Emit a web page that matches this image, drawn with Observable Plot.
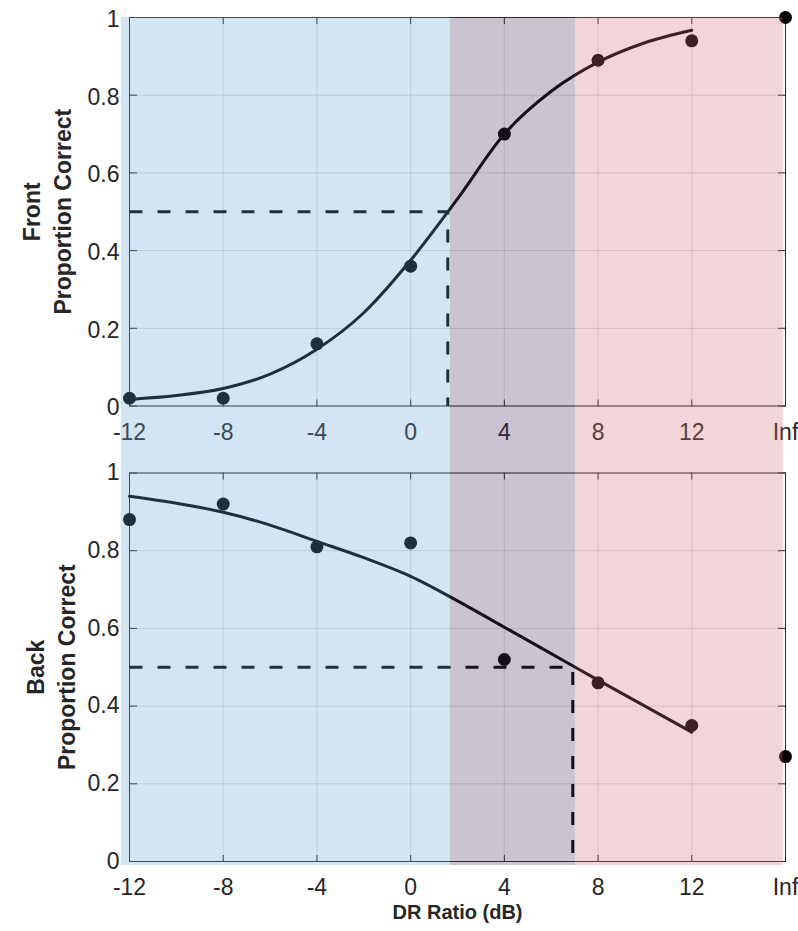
<!DOCTYPE html>
<html><head><meta charset="utf-8">
<script src="https://cdn.jsdelivr.net/npm/d3@7"></script>
<script src="https://cdn.jsdelivr.net/npm/@observablehq/plot@0.6"></script>
<style>
html,body{margin:0;padding:0;background:#fff;}
#chart svg{display:block;}
</style></head><body><div id="chart"></div>
<script>
// ---- data ----
const xTickValues = [-12, -8, -4, 0, 4, 8, 12, 16];
const xTickLabels = ["-12", "-8", "-4", "0", "4", "8", "12", "Inf"];
const yTickValues = [0, 0.2, 0.4, 0.6, 0.8, 1];
const yTickLabels = ["0", "0.2", "0.4", "0.6", "0.8", "1"];

const conditionX = [-12, -8, -4, 0, 4, 8, 12, 16]; // 16 = "Inf"
const frontCorrect = [0.02, 0.02, 0.16, 0.36, 0.70, 0.89, 0.94, 1.00];
const backCorrect  = [0.88, 0.92, 0.81, 0.82, 0.52, 0.46, 0.35, 0.27];

const fitX     = [-12, -10, -8, -6, -4, -2, 0, 2, 4, 6, 8, 10, 12];
const frontFit = [0.017, 0.027, 0.045, 0.082, 0.146, 0.24, 0.375, 0.533, 0.70, 0.81, 0.885, 0.935, 0.967];
const backFit  = [0.94, 0.922, 0.899, 0.866, 0.824, 0.782, 0.734, 0.671, 0.603, 0.535, 0.467, 0.40, 0.333];

const thresholdLevel = 0.5;
const frontThreshold = 1.585;
const backThreshold = 6.92;

// shaded regions (semi-transparent, drawn on top of everything)
const regionStart  = [-12.35, 1.7, 7.03];
const regionEnd    = [1.7, 7.03, 15.9];
const regionColors = ["rgb(103,162,214)", "rgb(72,52,100)", "rgb(210,110,120)"];
const regionAlpha = 0.29;

const ink = "#262626";
const fontFamily = "'Liberation Sans', Helvetica, Arial, sans-serif";

function panel({fit, correct, threshold, label, height, marginTop, marginBottom, patchTop, patchBottom, labelDx, xPad, yDy, xTitle}) {
  const pts = conditionX.map((x, i) => ({x, y: correct[i]}));
  const curve = fitX.map((x, i) => ({x, y: fit[i]}));
  const dash = [
    {x: conditionX[0], y: thresholdLevel},
    {x: threshold, y: thresholdLevel},
    {x: threshold, y: 0}
  ];
  const regions = regionStart.map((s, i) => ({start: s, end: regionEnd[i], color: regionColors[i]}));
  const fmtX = d => xTickLabels[xTickValues.indexOf(d)];
  const fmtY = d => yTickLabels[yTickValues.indexOf(d)];
  const marks = [
    Plot.gridX(xTickValues, {stroke: ink, strokeOpacity: 0.15, strokeWidth: 1}),
    Plot.gridY(yTickValues, {stroke: ink, strokeOpacity: 0.15, strokeWidth: 1}),
    Plot.frame({stroke: ink, strokeWidth: 1}),
    // inward ticks
    Plot.axisX(xTickValues, {anchor: "top", frameAnchor: "bottom", tickSize: 7, tickFormat: () => "", label: null, stroke: ink}),
    Plot.axisX(xTickValues, {anchor: "bottom", frameAnchor: "top", tickSize: 7, tickFormat: () => "", label: null, stroke: ink}),
    Plot.axisY(yTickValues, {anchor: "right", frameAnchor: "left", tickSize: 7, tickFormat: () => "", label: null, stroke: ink}),
    Plot.axisY(yTickValues, {anchor: "left", frameAnchor: "right", tickSize: 7, tickFormat: () => "", label: null, stroke: ink}),
    // tick labels
    Plot.axisX(xTickValues, {anchor: "bottom", tickSize: 0, tickPadding: xPad, fontSize: 23, fill: ink, tickFormat: fmtX, label: null}),
    Plot.axisY(yTickValues, {anchor: "left", tickSize: 0, tickPadding: 10, fontSize: 23, fill: ink, dy: yDy, tickFormat: fmtY, label: null}),
    // threshold guide
    Plot.line(dash, {x: "x", y: "y", stroke: "#000", strokeWidth: 3, strokeDasharray: "13,15", strokeLinecap: "butt"}),
    // fitted curve
    Plot.line(curve, {x: "x", y: "y", stroke: "#000", strokeWidth: 3, curve: "monotone-x"}),
    // data points
    Plot.dot(pts, {x: "x", y: "y", r: 6.5, fill: "#000", stroke: "none"}),
    // y title
    Plot.text([label], {text: d => d, frameAnchor: "left", textAnchor: "middle", dx: labelDx, rotate: -90, fontSize: 23, fontWeight: "bold", lineHeight: 1.37, fill: ink}),
    // shading on top
    ...regions.map(r => Plot.rect([r], {x1: "start", x2: "end", fill: r.color, fillOpacity: regionAlpha, insetTop: patchTop, insetBottom: patchBottom}))
  ];
  if (xTitle) {
    marks.push(Plot.text([xTitle], {text: d => d, frameAnchor: "bottom", lineAnchor: "top", dy: 43, fontSize: 20, fontWeight: "bold", fill: ink}));
  }
  return Plot.plot({
    width: 798, height,
    marginLeft: 129, marginRight: 13, marginTop, marginBottom,
    x: {domain: [-12, 16], axis: null},
    y: {domain: [0, 1], axis: null},
    style: {fontFamily, color: ink, background: "white", overflow: "hidden"},
    marks
  });
}

const chart = document.getElementById("chart");
chart.appendChild(panel({
  fit: frontFit, correct: frontCorrect, threshold: frontThreshold,
  label: "Front\nProportion Correct",
  height: 452, marginTop: 17, marginBottom: 46.5,
  patchTop: 0, patchBottom: -46.5, labelDx: -84, xPad: 18, yDy: 2
}));
chart.appendChild(panel({
  fit: backFit, correct: backCorrect, threshold: backThreshold,
  label: "Back\nProportion Correct",
  height: 479, marginTop: 20.5, marginBottom: 70,
  patchTop: -20.5, patchBottom: -4, labelDx: -80, xPad: 17, yDy: 0,
  xTitle: "DR Ratio (dB)"
}));
</script></body></html>
